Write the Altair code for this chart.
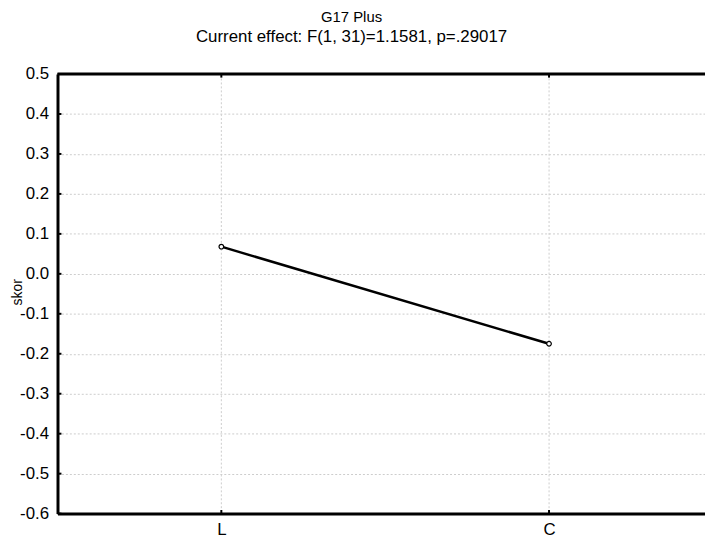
import altair as alt
import pandas as pd

categories = ["L", "C"]
values = [0.068, -0.175]
y_ticks = [0.5, 0.4, 0.3, 0.2, 0.1, 0.0, -0.1, -0.2, -0.3, -0.4, -0.5, -0.6]
title_text = "G17 Plus"
subtitle_text = "Current effect: F(1, 31)=1.1581, p=.29017"
y_title = "skor"

W, H = 654, 444
X_DOM = [0.5, 2.476]
Y_DOM = [-0.6, 0.5]

df = pd.DataFrame({"pos": [i + 1 for i in range(len(categories))],
                   "cat": categories, "val": values})
label_expr = " : ".join(
    [f"datum.value == {i+1} ? '{c}'" for i, c in enumerate(categories)] + ["''"])

xs = alt.Scale(domain=X_DOM, nice=False, zero=False)
ys = alt.Scale(domain=Y_DOM, nice=False, zero=False)

font = "Liberation Sans"
FS = 17

base = alt.Chart(df)

line = base.mark_line(color="black", strokeWidth=2.5).encode(
    x=alt.X("pos:Q", scale=xs,
            axis=alt.Axis(values=list(df["pos"]), labelExpr=label_expr, title=None,
                          grid=True, gridDash=[2, 2], gridColor="#cccccc",
                          ticks=False, domainWidth=3, domainColor="black",
                          labelFontSize=FS, labelColor="black", labelFont=font,
                          labelPadding=8, labelFontWeight="normal")),
    y=alt.Y("val:Q", scale=ys,
            axis=alt.Axis(values=y_ticks,
                          labelExpr="replace(format(datum.value, '.1f'), '\u2212', '-')",
                          title=y_title,
                          grid=True, gridDash=[2, 2], gridColor="#cccccc",
                          ticks=False, domainWidth=3, domainColor="black",
                          labelFontSize=FS, labelColor="black", labelFont=font,
                          labelPadding=9, titleFontSize=14, titleFont=font,
                          titleFontWeight="normal", titleColor="black",
                          titleX=-40, titleY=220, titleAngle=270,
                          titleAlign="center", titleBaseline="middle")),
)

pts = base.mark_point(shape="circle", filled=True, fill="white", stroke="black",
                      strokeWidth=1.2, size=22, opacity=1).encode(
    x=alt.X("pos:Q", scale=xs), y=alt.Y("val:Q", scale=ys))

# top frame line
top_df = pd.DataFrame({"a": [X_DOM[0]], "b": [X_DOM[1]], "y": [Y_DOM[1]]})
top = alt.Chart(top_df).mark_rule(color="black", strokeWidth=3).encode(
    x=alt.X("a:Q", scale=xs), x2="b:Q", y=alt.Y("y:Q", scale=ys))

# inward ticks on x (bottom and top)
xt = pd.DataFrame({"pos": list(df["pos"]) * 2,
                   "y1": [Y_DOM[0]] * len(df) + [Y_DOM[1]] * len(df),
                   "y2": [Y_DOM[0] + 0.009] * len(df) + [Y_DOM[1] - 0.009] * len(df)})
xticks = alt.Chart(xt).mark_rule(color="black", strokeWidth=2).encode(
    x=alt.X("pos:Q", scale=xs), y=alt.Y("y1:Q", scale=ys), y2="y2:Q")

# inward ticks on y (left)
yt = pd.DataFrame({"y": y_ticks, "x1": [X_DOM[0]] * len(y_ticks),
                   "x2": [X_DOM[0] + 0.012] * len(y_ticks)})
yticks = alt.Chart(yt).mark_rule(color="black", strokeWidth=2).encode(
    y=alt.Y("y:Q", scale=ys), x=alt.X("x1:Q", scale=xs), x2="x2:Q")

chart = alt.layer(line, top, xticks, yticks, pts).properties(
    width=W, height=H,
    title=alt.TitleParams(text=title_text, subtitle=subtitle_text, fontSize=15,
                          subtitleFontSize=17, font=font, subtitleFont=font,
                          fontWeight="normal", color="black", subtitleColor="black",
                          anchor="middle", frame="group", dx=-30, offset=20,
                          subtitlePadding=5),
    autosize=alt.AutoSizeParams(type="none"),
    padding={"left": 50, "top": 64, "right": 0, "bottom": 28},
).configure_view(stroke=None).configure(background="white")

chart.save("out.html", embed_options={"renderer": "svg", "actions": False})
